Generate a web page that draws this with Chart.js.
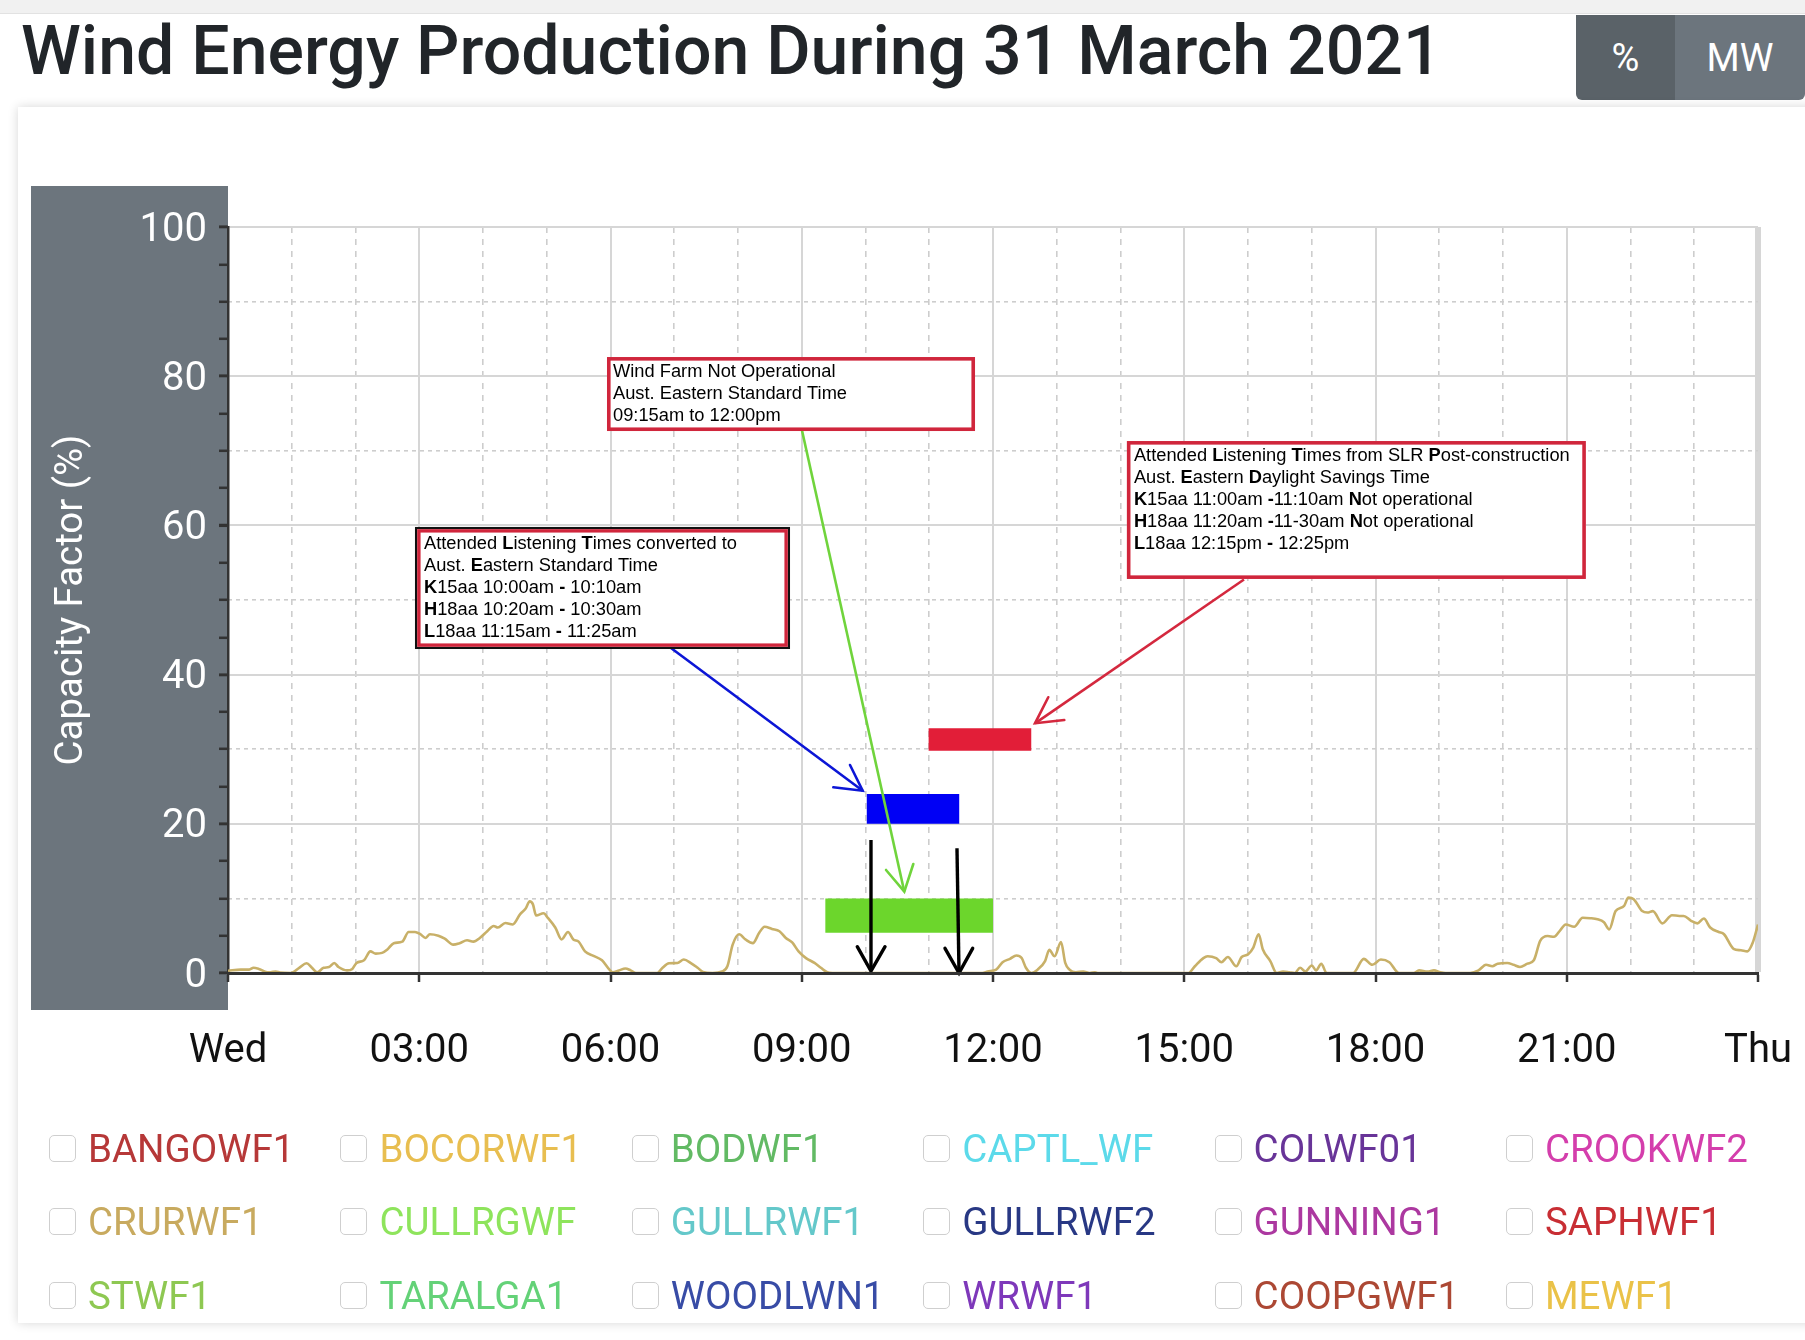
<!DOCTYPE html>
<html>
<head>
<meta charset="utf-8">
<script src="https://cdn.jsdelivr.net/npm/chart.js@4.4.1/dist/chart.umd.min.js"></script>
<style>
  html, body { margin:0; padding:0; background:#fff; width:1805px; height:1340px; overflow:hidden;
    font-family: Roboto, "Liberation Sans", Arial, sans-serif; }
  #topstrip { position:absolute; left:0; top:0; width:1805px; height:13px; background:#f1f1f1; border-bottom:1px solid #e2e2e2; }
  #title { position:absolute; left:21px; top:11px; font-size:68px; font-weight:500; color:#212529; line-height:80px; white-space:nowrap; }
  #btns { position:absolute; left:1576px; top:15px; height:85px; display:flex; border-radius:0 0 6px 6px; overflow:hidden; }
  .btn { color:#fff; font-size:38px; display:flex; align-items:center; justify-content:center; height:85px; }
  #b1 { width:99px; background:#5a6268; }
  #b2 { width:130px; background:#6c757d; }
  #card { position:absolute; left:18px; top:107px; width:1800px; height:1216px; background:#fff;
    box-shadow:0 0 10px rgba(0,0,0,0.16); }
  #wrap { position:absolute; left:0; top:0; width:1805px; height:1100px; }
  #legend { position:absolute; left:0; top:0; width:1805px; height:1340px; pointer-events:none; }
  .item { position:absolute; height:40px; display:flex; align-items:center; font-size:38.5px; white-space:nowrap; }
  .item input { appearance:none; -webkit-appearance:none; margin:0 12px 0 0; width:27px; height:27px; box-sizing:border-box;
    border:1.5px solid #cfcfcf; border-radius:5px; background:#fff; }
</style>
</head>
<body>
<div id="topstrip"></div>
<div id="title">Wind Energy Production During 31 March 2021</div>
<div id="btns"><div class="btn" id="b1">%</div><div class="btn" id="b2">MW</div></div>
<div id="card"></div>
<div id="wrap"><canvas id="c" width="1805" height="1100"></canvas></div>
<div id="legend"></div>
<script>
// ---------- data ----------
const hourTickLabels = ['Wed','03:00','06:00','09:00','12:00','15:00','18:00','21:00','Thu'];

// CRURWF1 capacity factor (%); time in minutes after midnight
const cfMinutes = [
  0,12,20,24,29,37,40,45,49,59,67,74,79,84,90,95,100,104,112,117,
  121,128,134,139,145,150,156,164,170,176,181,186,190,198,204,212,218,225,231,237,
  244,250,254,261,268,275,280,284,287,290,297,301,308,314,320,325,330,336,344,352,
  359,362,368,374,379,384,404,409,415,423,429,436,442,447,456,465,470,475,481,487,
  494,500,505,512,519,525,531,537,544,552,558,564,569,710,715,723,729,736,742,747,
  751,756,762,769,773,778,784,788,792,798,805,811,816,819,904,910,918,922,930,935,
  941,949,954,960,965,970,974,981,987,993,999,1004,1009,1014,1020,1024,1029,1034,1059,1069,
  1077,1085,1093,1102,1116,1121,1129,1135,1141,1146,1169,1177,1184,1190,1195,1204,1210,1216,1223,1229,
  1235,1242,1248,1254,1259,1267,1275,1282,1289,1295,1300,1306,1314,1318,1323,1331,1336,1341,1350,1359,
  1366,1370,1377,1383,1389,1395,1403,1408,1417,1424,1430,1435,1440
];
const cfValues = [
  0.3,0.45,0.45,0.7,0.55,0.1,0.1,0.2,0.05,0,0.7,1.3,0.7,0.1,0.7,0.8,1.35,0.8,0.35,0.55,
  1.35,1.7,2.9,2.6,2.7,3.15,4.0,4.2,5.5,5.5,5.2,4.7,5.2,5.0,4.6,3.8,4.0,4.4,4.2,4.7,
  5.6,6.3,6.1,6.7,6.5,7.9,8.6,9.6,9.2,7.7,8.0,7.4,6.1,4.5,5.5,4.5,4.2,2.9,2.3,1.7,
  0.45,0.1,0.35,0.6,0.35,0,0,0.7,1.3,1.35,1.8,1.3,0.7,0.15,0,0.2,0.9,3.8,5.2,4.5,
  4.0,5.4,6.2,5.9,5.6,4.7,4.1,2.9,2.0,1.35,0.7,0.1,0,0,0.2,0.45,1.45,1.9,2.35,2.0,
  0.7,0,0.45,1.6,3.1,2.25,4.15,1.35,0.45,0.1,0.2,0,0.1,0,0,0.9,2.0,2.25,2.0,1.45,
  2.15,0.9,2.15,2.5,3.4,5.2,3.15,1.6,0,0.2,0.1,0,0.7,0.2,1.0,0.35,1.25,0,0,1.9,
  1.1,1.8,1.45,0,0,0.35,0.2,0.35,0.1,0,0,0.35,1.1,0.9,1.25,1.35,1.1,0.8,1.25,1.7,
  4.3,4.95,4.85,5.75,6.5,6.2,7.4,7.35,7.2,6.8,5.85,8.3,9.0,10.1,9.9,8.3,8.1,8.3,6.65,7.75,
  7.65,7.65,7.0,6.65,7.3,6.1,5.5,5.2,3.25,3.05,2.9,4.05,6.5
];

// highlighted periods: [start hour, end hour] and [low %, high %]
const notOperationalHours = [9.37, 12.0];
const notOperationalLevel = [5.4, 10.0];
const convertedHours = [10.02, 11.47];
const convertedLevel = [20.0, 24.0];
const slrHours = [10.99, 12.6];
const slrLevel = [29.8, 32.8];

// arrows: shaft start, tip, two wing ends  (x in hours, y in %)
const blueArrowPts  = [[6.949,43.57],[9.956,24.44],[9.495,24.89],[9.757,27.88]];
const greenArrowPts = [[9.004,72.72],[10.609,10.90],[10.322,13.81],[10.750,14.61]];
const redArrowPts   = [[15.937,52.75],[12.659,33.47],[12.867,36.96],[13.118,33.91]];
const blackArrow1Pts = [[10.086,17.83],[10.086,0.27],[9.871,3.53],[10.306,3.53]];
const blackArrow2Pts = [[11.435,16.72],[11.467,0.0],[11.247,3.31],[11.681,3.31]];

// note boxes: [left hour, right hour], [top %, bottom %], text lines (* toggles bold)
const noteGreenHours = [5.945, 11.718], noteGreenLevel = [82.57, 72.65];
const noteGreenLines = ['Wind Farm Not Operational','Aust. Eastern Standard Time','09:15am to 12:00pm'];
const noteLeftHours = [2.933, 8.816], noteLeftLevel = [59.79, 43.43];
const noteLeftLines = ['Attended *L*istening *T*imes converted to','Aust. *E*astern Standard Time',
  '*K*15aa 10:00am *-* 10:10am','*H*18aa 10:20am *-* 10:30am','*L*18aa 11:15am *-* 11:25am'];
const noteRightHours = [14.10, 21.30], noteRightLevel = [71.31, 52.82];
const noteRightLines = ['Attended *L*istening *T*imes from SLR *P*ost-construction','Aust. *E*astern *D*aylight Savings Time',
  '*K*15aa 11:00am *-*11:10am *N*ot operational','*H*18aa 11:20am *-*11-30am *N*ot operational','*L*18aa 12:15pm *-* 12:25pm'];

const farmNames = ['BANGOWF1','BOCORWF1','BODWF1','CAPTL_WF','COLWF01','CROOKWF2',
  'CRURWF1','CULLRGWF','GULLRWF1','GULLRWF2','GUNNING1','SAPHWF1',
  'STWF1','TARALGA1','WOODLWN1','WRWF1','COOPGWF1','MEWF1'];
const farmColors = ['rgb(182,56,56)','rgb(232,190,80)','rgb(98,186,100)','rgb(92,218,234)','rgb(104,52,152)','rgb(212,62,172)',
  'rgb(200,170,95)','rgb(142,228,92)','rgb(100,200,202)','rgb(40,56,132)','rgb(172,56,160)','rgb(200,46,52)',
  'rgb(142,200,82)','rgb(100,210,120)','rgb(56,76,166)','rgb(126,56,186)','rgb(172,72,52)','rgb(234,194,72)'];

// ---------- legend (HTML) ----------
const legend = document.getElementById('legend');
farmNames.forEach((n, i) => {
  const col = i % 6, row = Math.floor(i / 6);
  const d = document.createElement('div');
  d.className = 'item';
  d.style.left = (49 + col * 291.4) + 'px';
  d.style.top = (1128 + row * 73.5) + 'px';
  d.style.color = farmColors[i];
  d.innerHTML = '<input type="checkbox"><span>' + n + '</span>';
  legend.appendChild(d);
});

// ---------- datasets ----------
const pts = (arr) => arr.map(p => ({x: p[0], y: p[1]}));
function rectPts(h, l) {
  return [{x:h[0],y:l[0]},{x:h[0],y:l[1]},{x:h[1],y:l[1]},{x:h[1],y:l[0]},{x:h[0],y:l[0]}];
}
function barSet(h, l, color, order) {
  return { data: rectPts(h, l), showLine:true, fill:'shape', backgroundColor:color, borderColor:color,
           borderWidth:0, pointRadius:0, tension:0, clip:false, order };
}
function arrowSets(a, color, width, order) {
  return [
    { data: pts([a[0], a[1]]), showLine:true, borderColor:color, borderWidth:width, pointRadius:0, fill:false, tension:0, clip:false, order },
    { data: pts([a[2], a[1], a[3]]), showLine:true, borderColor:color, borderWidth:width, pointRadius:0, fill:false, tension:0, clip:false, order,
      borderJoinStyle:'miter', borderCapStyle:'round' }
  ];
}

const datasets = [
  { label:'CRURWF1', data: cfMinutes.map((m, i) => ({x: m / 60, y: cfValues[i]})),
    borderColor:'rgb(200,176,104)', borderWidth:2.6, pointRadius:0, fill:false,
    cubicInterpolationMode:'monotone', order:20 },
  barSet(notOperationalHours, notOperationalLevel, 'rgb(108,214,44)', 10),
  barSet(convertedHours, convertedLevel, 'rgb(0,0,245)', 10),
  barSet(slrHours, slrLevel, 'rgb(226,30,56)', 10),
  ...arrowSets(blueArrowPts, 'rgb(12,22,214)', 2.6, 3),
  ...arrowSets(redArrowPts, 'rgb(212,40,62)', 2.6, 3),
  ...arrowSets(greenArrowPts, 'rgb(112,212,60)', 2.6, 2),
  ...arrowSets(blackArrow1Pts, '#000', 3.4, 1),
  ...arrowSets(blackArrow2Pts, '#000', 3.4, 1)
];

// ---------- plugins ----------
const panelPlugin = {
  id:'panel',
  beforeDraw(chart) {
    const {ctx, chartArea:a} = chart;
    ctx.save();
    ctx.fillStyle = '#6c757d';
    ctx.fillRect(a.left - 197, a.top - 41, 197, (a.bottom - a.top) + 78);
    ctx.restore();
  }
};

const notes = [
  {h:noteGreenHours, l:noteGreenLevel, lines:noteGreenLines, dbl:false, tx:6, ty:20},
  {h:noteLeftHours, l:noteLeftLevel, lines:noteLeftLines, dbl:true, tx:9, ty:22},
  {h:noteRightHours, l:noteRightLevel, lines:noteRightLines, dbl:false, tx:7, ty:20}
];
const notesPlugin = {
  id:'notes',
  afterDraw(chart) {
    const {ctx, scales} = chart;
    const xs = scales.x, ys = scales.y;
    ctx.save();
    notes.forEach(n => {
      const x0 = xs.getPixelForValue(n.h[0]), x1 = xs.getPixelForValue(n.h[1]);
      const y0 = ys.getPixelForValue(n.l[0]), y1 = ys.getPixelForValue(n.l[1]);
      ctx.fillStyle = '#fff';
      ctx.fillRect(x0, y0, x1 - x0, y1 - y0);
      if (n.dbl) {
        ctx.strokeStyle = '#111'; ctx.lineWidth = 2.2;
        ctx.strokeRect(x0 + 1.1, y0 + 1.1, x1 - x0 - 2.2, y1 - y0 - 2.2);
        ctx.strokeStyle = 'rgb(208,38,60)'; ctx.lineWidth = 3.4;
        ctx.strokeRect(x0 + 3.9, y0 + 3.9, x1 - x0 - 7.8, y1 - y0 - 7.8);
      } else {
        ctx.strokeStyle = 'rgb(208,38,60)'; ctx.lineWidth = 3.6;
        ctx.strokeRect(x0 + 1.8, y0 + 1.8, x1 - x0 - 3.6, y1 - y0 - 3.6);
      }
      ctx.fillStyle = '#000';
      ctx.textBaseline = 'alphabetic';
      ctx.textAlign = 'left';
      n.lines.forEach((line, li) => {
        let x = x0 + n.tx;
        const y = y0 + n.ty + li * 22;
        line.split('*').forEach((seg, si) => {
          ctx.font = (si % 2 ? 'bold ' : '') + '18.3px "Liberation Sans", Arial, sans-serif';
          ctx.fillText(seg, x, y);
          x += ctx.measureText(seg).width;
        });
      });
    });
    ctx.restore();
  }
};

// ---------- chart ----------
const fam = 'Roboto, "Liberation Sans", sans-serif';
new Chart(document.getElementById('c'), {
  type:'line',
  data:{ datasets },
  options:{
    responsive:false, animation:false, devicePixelRatio:1, events:[],
    layout:{ padding:{ left:0, top:227, right:47, bottom:27 } },
    plugins:{ legend:{display:false}, tooltip:{enabled:false}, title:{display:false} },
    scales:{
      x:{ type:'linear', position:'bottom', min:0, max:24, weight:1,
          ticks:{ stepSize:3, autoSkip:false, maxRotation:0, minRotation:0, color:'#111',
                  font:{family:fam, size:40, lineHeight:3.2}, padding:6,
                  callback:(v) => hourTickLabels[Math.round(v / 3)] },
          grid:{ color:'#d6d6d6', lineWidth:(c) => (c.tick && c.tick.value === 24) ? 6 : 2,
                 tickLength:9, tickColor:'#333', tickWidth:2.5 },
          border:{ color:'#333', width:3, z:1 },
          afterFit:(s) => { s.height = 100; } },
      xMinor:{ type:'linear', position:'bottom', min:0, max:24, weight:0,
          ticks:{ stepSize:1, display:false },
          grid:{ color:(c) => (c.tick && c.tick.value % 3 !== 0) ? '#cdcdcd' : 'rgba(0,0,0,0)', lineWidth:1.6, drawTicks:false },
          border:{ display:false, dash:[6,6] },
          afterFit:(s) => { s.height = 0; } },
      y:{ type:'linear', position:'left', min:0, max:100, weight:1,
          ticks:{ stepSize:20, color:'#fff', font:{family:fam, size:40}, padding:12, labelOffset:3.5 },
          grid:{ color:'#d6d6d6', lineWidth:2, tickLength:9, tickColor:'#333', tickWidth:2.5 },
          border:{ color:'#333', width:2.5 },
          title:{ display:true, text:'Capacity Factor (%)', color:'#fff',
                  font:{family:fam, size:38.4}, padding:{top:49.5, bottom:0} },
          afterFit:(s) => { s.width = 228; } },
      yMinor:{ type:'linear', position:'left', min:0, max:100, weight:0,
          ticks:{ stepSize:5, display:false },
          grid:{ color:(c) => (c.tick && c.tick.value % 20 !== 0 && c.tick.value % 10 === 0) ? '#cdcdcd' : 'rgba(0,0,0,0)',
                 lineWidth:1.6, tickLength:9, tickColor:'#333', tickWidth:2.5 },
          border:{ display:false, dash:[4,4] },
          afterFit:(s) => { s.width = 0; } }
    }
  },
  plugins:[panelPlugin, notesPlugin]
});
</script>
</body>
</html>
